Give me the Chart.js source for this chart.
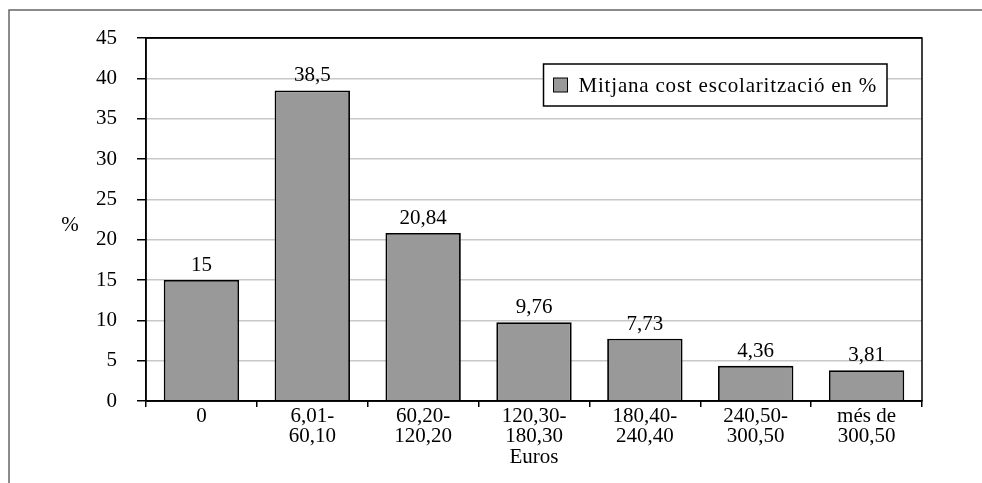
<!DOCTYPE html>
<html>
<head>
<meta charset="utf-8">
<script src="https://cdn.jsdelivr.net/npm/chart.js@4.4.1/dist/chart.umd.min.js"></script>
<style>
    html, body { margin: 0; padding: 0; background: #fff; }
    #wrap { width: 982px; height: 483px; }
</style>
</head>
<body>
<div id="wrap"><canvas id="chart" width="982" height="483"></canvas></div>
<script>
// data
const categories = [["0"], ["6,01-", "60,10"], ["60,20-", "120,20"], ["120,30-", "180,30"], ["180,40-", "240,40"], ["240,50-", "300,50"], ["més de", "300,50"]];
const values = [15, 38.5, 20.84, 9.76, 7.73, 4.36, 3.81];
const series_label = "Mitjana cost escolarització en %";
const y_title = "%";
const x_title = "Euros";
const y_min = 0, y_max = 45, y_step = 5;

const FONT = "'Liberation Serif', 'Times New Roman', serif";
const FONT_SIZE = 21;

// frame, value labels, legend, y title
const decorations = {
    id: "decorations",
    afterDraw(chart) {
        const ctx = chart.ctx;
        const area = chart.chartArea;
        ctx.save();

        // outer frame (only top and left visible)
        ctx.strokeStyle = "#666";
        ctx.lineWidth = 1.5;
        ctx.beginPath();
        ctx.moveTo(9, chart.height);
        ctx.lineTo(9, 10);
        ctx.lineTo(chart.width, 10);
        ctx.stroke();

        // plot border
        ctx.strokeStyle = "#000";
        ctx.lineWidth = 1.5;
        ctx.strokeRect(area.left, area.top, area.right - area.left, area.bottom - area.top);

        // value labels
        ctx.font = `${FONT_SIZE}px ${FONT}`;
        ctx.fillStyle = "#000";
        ctx.textAlign = "center";
        ctx.textBaseline = "alphabetic";
        const meta = chart.getDatasetMeta(0);
        meta.data.forEach((bar, i) => {
            ctx.fillText(String(values[i]).replace(".", ","), bar.x, bar.y - 9);
        });

        // y title
        ctx.textBaseline = "middle";
        ctx.fillText(y_title, area.left - 76, (area.top + area.bottom) / 2 + 6);

        // legend
        ctx.letterSpacing = "0.8px";
        const text_w = ctx.measureText(series_label).width;
        const box_right = area.right - 35;
        const box_top = area.top + 26;
        const box_h = 42;
        const box_w = 10 + 14 + 11 + text_w + 10;
        const box_left = box_right - box_w;
        ctx.fillStyle = "#fff";
        ctx.fillRect(box_left, box_top, box_w, box_h);
        ctx.strokeStyle = "#000";
        ctx.lineWidth = 1.5;
        ctx.strokeRect(box_left, box_top, box_w, box_h);
        ctx.fillStyle = "#999999";
        ctx.fillRect(box_left + 10, box_top + 14, 14, 14);
        ctx.lineWidth = 1;
        ctx.strokeRect(box_left + 10, box_top + 14, 14, 14);
        ctx.fillStyle = "#000";
        ctx.textAlign = "left";
        ctx.fillText(series_label, box_left + 35, box_top + box_h / 2 + 1);

        ctx.restore();
    }
};

const chart = new Chart(document.getElementById("chart").getContext("2d"), {
    type: "bar",
    data: {
        labels: categories,
        datasets: [{
            label: series_label,
            data: values,
            backgroundColor: "#999999",
            borderColor: "#000",
            borderWidth: 1.8,
            barPercentage: 0.68,
            categoryPercentage: 1.0
        }]
    },
    options: {
        responsive: false,
        animation: false,
        devicePixelRatio: 1,
        layout: { padding: { left: 0, top: 38, right: 60, bottom: 0 } },
        plugins: {
            legend: { display: false },
            tooltip: { enabled: false }
        },
        scales: {
            x: {
                offset: true,
                grid: {
                    offset: true,
                    drawOnChartArea: false,
                    drawTicks: true,
                    tickLength: 6,
                    tickColor: "#000",
                    lineWidth: 1.5
                },
                border: { display: true, color: "#000", width: 1.5 },
                ticks: {
                    color: "#000",
                    font: { family: FONT, size: FONT_SIZE, lineHeight: 0.95 },
                    padding: 0,
                    maxRotation: 0,
                    autoSkip: false
                },
                title: {
                    display: true,
                    text: x_title,
                    color: "#000",
                    font: { family: FONT, size: FONT_SIZE, lineHeight: 1.2 },
                    padding: { top: 0, bottom: 13 }
                },
                afterFit(scale) { scale.height = 82; }
            },
            y: {
                min: y_min,
                max: y_max,
                grid: {
                    color: c => (c.tick && (c.tick.value === y_min || c.tick.value === y_max)) ? "#000" : "#c8c8c8",
                    lineWidth: 1.5,
                    tickColor: "#000",
                    tickLength: 9
                },
                border: { display: true, color: "#000", width: 1.5 },
                ticks: {
                    stepSize: y_step,
                    color: "#000",
                    font: { family: FONT, size: FONT_SIZE },
                    padding: 20
                },
                afterFit(scale) { scale.width = 146; }
            }
        }
    },
    plugins: [decorations]
});
</script>
</body>
</html>
